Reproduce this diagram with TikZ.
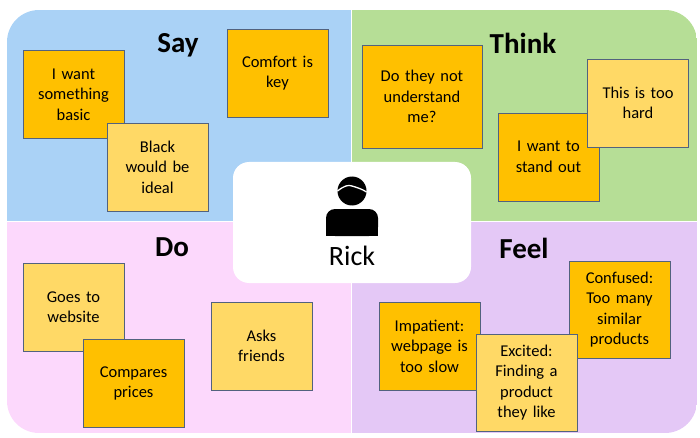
\documentclass[tikz,border=0pt]{standalone}
\usepackage{fontspec}
\setmainfont{Carlito}
\definecolor{saybg}{RGB}{170,210,246}
\definecolor{thinkbg}{RGB}{182,222,150}
\definecolor{dobg}{RGB}{252,216,252}
\definecolor{feelbg}{RGB}{228,200,246}
\definecolor{notedark}{RGB}{255,192,0}
\definecolor{notelight}{RGB}{255,217,102}
\definecolor{noteline}{RGB}{82,98,126}

\begin{document}
\begin{tikzpicture}[x=1pt, y=-1pt,
            every node/.style={font=\fontsize{16.5}{20.5}\selectfont, align=center},
            note/.style={draw=noteline, line width=0.9pt, minimum width=101pt,
                minimum height=88pt, text width=94pt, inner sep=0pt},
            dark/.style={note, fill=notedark},
            light/.style={note, fill=notelight},
            heading/.style={font=\fontsize{29}{30}\selectfont\bfseries},
            ]
            \useasboundingbox (0,0) rectangle (700,438);
            % the four quadrants
            \begin{scope}
                \clip[rounded corners=32pt] (7,10) rectangle (697,433);
                \fill[saybg] (7,10) rectangle (350.5,220.5);
                \fill[thinkbg] (352,10) rectangle (697,220.5);
                \fill[dobg] (7,222) rectangle (350.5,433);
                \fill[feelbg] (352,222) rectangle (697,433);
            \end{scope}
            \node[heading] (say) at (178,45) {Say};
            \node[heading] (think) at (523,43) {Think};
            \node[heading] (do) at (172,247) {Do};
            \node[heading] (feel) at (524,248) {Feel};

            % person in the middle
            \node[fill=white, rounded corners=16pt, minimum width=238pt, minimum height=121pt]
                (centre) at (352,222.5) {};
            \fill (352,191) circle[radius=14.5pt];
            \draw[white, line width=1.3pt] (337.5,191) .. controls (344,186) and (348,184.5) .. (352,186)
                .. controls (357,187.5) and (362,189) .. (366.5,192);
            \fill[rounded corners=9pt] (326,209) rectangle (378,236);
            \fill (326,222) rectangle (378,236);
            \node[font=\fontsize{28}{30}\selectfont] (rick) at (352,256) {Rick};

            % say
            \node[dark] (wantbasic) at (73.5,94.5) {I want\\something\\basic};
            \node[light] (black) at (157.5,167) {Black\\would be\\ideal};
            \node[dark] (comfort) at (277.5,73) {Comfort is\\key};
            % think
            \node[dark, minimum width=120pt, minimum height=103pt] (understand) at (422,96.5)
                {Do they not\\understand\\me?};
            \node[dark] (standout) at (548.5,157) {I want to\\stand out};
            \node[light] (toohard) at (638,103) {This is too\\hard};
            % do
            \node[light] (website) at (73.5,307) {Goes to\\website};
            \node[dark] (compares) at (133.5,383.5) {Compares\\prices};
            \node[light] (friends) at (261.5,346) {Asks\\friends};
            % feel
            \node[dark] (impatient) at (429.5,346) {Impatient:\\webpage is\\too slow};
            \node[dark, minimum height=97pt] (confused) at (619.5,309.5)
                {Confused:\\Too many\\similar\\products};
            \node[light, minimum height=97pt] (excited) at (526.5,382.5)
                {Excited:\\Finding a\\product\\they like};
        \end{tikzpicture}
\end{document}
